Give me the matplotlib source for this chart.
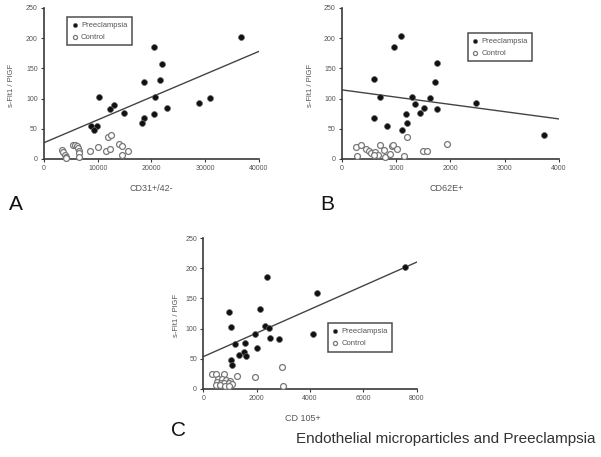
import matplotlib
matplotlib.use("Agg")
import matplotlib.pyplot as plt
import numpy as np

plt.rcParams['font.family'] = ['Liberation Sans', 'DejaVu Sans']

# ---------------- data ----------------
# Panel A: CD31+/42-
a_pre_x = [36600, 20500, 22000, 18600, 21500, 20600, 10300, 13000, 12300, 14800,
           28900, 30900, 22900, 20400, 18600, 18300, 8800, 9900, 9300]
a_pre_y = [202, 185, 158, 127, 131, 103, 102, 90, 82, 76,
           92, 101, 84, 74, 68, 60, 55, 55, 48]
a_con_x = [3300, 3600, 3860, 4040, 4150, 5350, 5720, 6090, 6280, 6460, 6520, 6580,
           8570, 10000, 11850, 12450, 11450, 12350, 13900, 14450, 14500, 15650]
a_con_y = [15, 11.5, 7, 4, 1.7, 23.7, 22.7, 21.5, 17.7, 13.7, 9.4, 3.8,
           13.7, 20.4, 36.5, 39.8, 12.5, 16, 24.5, 21, 6.6, 13.7]
a_fit = (27.0, 0.00378)   # intercept, slope

# Panel B: CD62E+
b_pre_x = [1095, 960, 1748, 597, 1723, 708, 1286, 1618, 2474, 1341,
           1514, 1760, 1440, 1188, 591, 1206, 825, 1114, 3729]
b_pre_y = [203, 186, 158.6, 132, 128, 103, 103, 101.7, 92.8, 90.6,
           84, 82.9, 76.8, 74, 68.5, 60.2, 55.2, 48, 39.8]
b_con_x = [252, 360, 280, 435, 495, 540, 609, 660, 700, 600, 790, 780,
           886, 917, 950, 1012, 1145, 1194, 1500, 1575, 1932]
b_con_y = [20, 23.3, 4.4, 16, 13.5, 9.8, 12.2, 7, 22.8, 6.6, 3.8, 14.9,
           7.8, 21.8, 22.5, 16.5, 5, 37, 13.3, 13.3, 24.6]
b_fit = (114.4, -0.0120)

# Panel C: CD 105+
c_pre_x = [7562, 2375, 4275, 950, 2125, 1050, 2312, 2475, 1937, 4125,
           2500, 2825, 1562, 1187, 2025, 1525, 1350, 1612, 1050, 1062]
c_pre_y = [202, 186, 158.6, 128, 132, 103, 103.9, 100.6, 90.6, 91.7,
           84, 83.4, 76.8, 74.6, 68.5, 61.9, 55.8, 54, 48, 39.8]
c_con_x = [325, 475, 775, 562, 687, 850, 1000, 500, 650, 775, 950, 1062,
           475, 625, 825, 975, 1275, 1950, 2962, 2975]
c_con_y = [24.9, 24.9, 24.9, 17, 16, 15, 13.8, 12, 10.5, 9.4, 9.4, 8.3,
           6, 6, 5, 5.5, 22, 20.4, 36.5, 4.4]
c_fit = (53.6, 0.01956)

y_ticks = [0, 50, 100, 150, 200, 250]
ylabel = "s-Flt1 / PlGF"
legend_labels = ["Preeclampsia", "Control"]

# ---------------- figure ----------------
fig = plt.figure(figsize=(6.01, 4.57), dpi=100)

panels = [
    dict(rect=[0.0732, 0.6521, 0.3577, 0.3304], px=a_pre_x, py=a_pre_y, cx=a_con_x, cy=a_con_y,
         fit=a_fit, xmax=40000, xticks=[0, 10000, 20000, 30000, 40000], xlabel="CD31+/42-",
         xlab_x=0.498, ylab_x=-0.135, leg=(0.112, 0.9635)),
    dict(rect=[0.569, 0.6521, 0.3606, 0.3304], px=b_pre_x, py=b_pre_y, cx=b_con_x, cy=b_con_y,
         fit=b_fit, xmax=4000, xticks=[0, 1000, 2000, 3000, 4000], xlabel="CD62E+",
         xlab_x=0.485, ylab_x=-0.129, leg=(0.778, 0.928)),
    dict(rect=[0.3383, 0.1488, 0.3551, 0.3304], px=c_pre_x, py=c_pre_y, cx=c_con_x, cy=c_con_y,
         fit=c_fit, xmax=8000, xticks=[0, 2000, 4000, 6000, 8000], xlabel="CD 105+",
         xlab_x=0.467, ylab_x=-0.109, leg=(0.545, 0.2925)),
]

axis_col = "#3a3a3a"
tick_col = "#555555"

for p in panels:
    ax = fig.add_axes(p["rect"])
    ax.set_xlim(0, p["xmax"])
    ax.set_ylim(0, 250)
    for s in ["top", "right"]:
        ax.spines[s].set_visible(False)
    for s in ["left", "bottom"]:
        ax.spines[s].set_color(axis_col)
        ax.spines[s].set_linewidth(1.2)
    ax.set_xticks(p["xticks"])
    ax.set_yticks(y_ticks)
    ax.tick_params(axis="both", labelsize=5, colors=axis_col, labelcolor=tick_col,
                   length=2.5, width=0.8, direction="out", pad=2)
    xx = np.array([0, p["xmax"]])
    ax.plot(xx, p["fit"][0] + p["fit"][1] * xx, color="#444444", lw=1.0, zorder=2)
    ax.scatter(p["cx"], p["cy"], s=18, facecolors="white", edgecolors="#777777",
               linewidths=0.9, zorder=3, label=legend_labels[1], clip_on=False)
    ax.scatter(p["px"], p["py"], s=18, color="#111111", edgecolors="#666666",
               linewidths=0.5, zorder=4, label=legend_labels[0], clip_on=False)
    h, l = ax.get_legend_handles_labels()
    leg = ax.legend([h[1], h[0]], [l[1], l[0]], loc="upper left",
                    bbox_to_anchor=p["leg"], bbox_transform=fig.transFigure,
                    fontsize=5.5, frameon=True, fancybox=False, borderpad=0.6,
                    labelspacing=0.6, handlelength=0.8, handletextpad=0.4,
                    borderaxespad=0, markerscale=0.7)
    leg.get_frame().set_edgecolor("#222222")
    leg.get_frame().set_linewidth(1.1)
    for t in leg.get_texts():
        t.set_color("#555555")
    ax.set_xlabel(p["xlabel"], fontsize=6.5, color="#555555")
    ax.xaxis.set_label_coords(p["xlab_x"], -0.165)
    ax.set_ylabel(ylabel, fontsize=5.5, color="#555555")
    ax.yaxis.set_label_coords(p["ylab_x"], 0.49)

fig.text(16 / 601, 1 - 205 / 457, "A", fontsize=15, ha="center", va="center", color="#111111")
fig.text(327 / 601, 1 - 205 / 457, "B", fontsize=15, ha="center", va="center", color="#111111")
fig.text(179 / 601, 1 - 431 / 457, "C", fontsize=15, ha="center", va="center", color="#111111")
fig.text(596 / 601, 1 - 439 / 457, "Endothelial microparticles and Preeclampsia",
         fontsize=11, ha="right", va="center", color="#333333")

fig.savefig("out.png", dpi=100)
